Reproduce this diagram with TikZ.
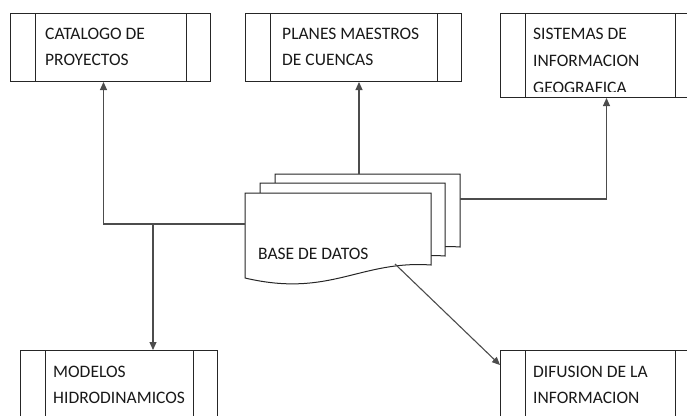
\documentclass[tikz,border=0pt]{standalone}
\usepackage{fontspec}
\setmainfont{Carlito}
\usetikzlibrary{arrows.meta}
\tikzstyle{borde}=[draw=black!85,line width=1pt]
\tikzstyle{caja}=[borde,rectangle,anchor=north west,inner sep=0pt]
\tikzstyle{txt}=[anchor=north west,inner sep=0pt,align=left,text=black!90,font=\fontsize{17.5}{25.5}\selectfont]
\tikzstyle{con}=[draw=black!70,line width=1.1pt]
\tikzstyle{flecha}=[con,-{Triangle[length=8pt,width=7pt]}]
\tikzstyle{hoja}=[borde,fill=white]
\newcommand{\barras}[1]{\draw[borde] ([xshift=25pt]#1.north west) -- ([xshift=25pt]#1.south west) ([xshift=-25pt]#1.north east) -- ([xshift=-25pt]#1.south east);}

\begin{document}
\begin{tikzpicture}[x=1pt,y=-1pt]
\useasboundingbox (0,0) rectangle (687,415);
\clip (0,0) rectangle (687,415);
% cajas
\node[caja,minimum width=200pt,minimum height=68pt] (b1) at (10,13) {}; \barras{b1}
\node[caja,minimum width=216pt,minimum height=68pt] (b2) at (245,13) {}; \barras{b2}
\node[caja,minimum width=199pt,minimum height=84pt] (b3) at (500,13) {}; \barras{b3}
\node[caja,minimum width=197pt,minimum height=80pt] (b4) at (20,350) {}; \barras{b4}
\node[caja,minimum width=199pt,minimum height=80pt] (b5) at (500,350) {}; \barras{b5}
\node[txt] (t1) at (45,28) {CATALOGO DE\\PROYECTOS};
\node[txt] (t2) at (282,28) {PLANES MAESTROS\\DE CUENCAS};
\begin{scope}
\clip (b3.north west) rectangle ([yshift=7pt]b3.south east);
\node[txt,font=\fontsize{17.5}{27}\selectfont] (t3) at (533,28) {SISTEMAS DE\\INFORMACION\\GEOGRAFICA};
\end{scope}
\node[txt] (t4) at (53,366) {MODELOS\\HIDRODINAMICOS};
\node[txt] (t5) at (533,366) {DIFUSION DE LA\\INFORMACION};
% base de datos
\draw[hoja] (275,174) -- (460,174) -- (460,247) .. controls (389,242) and (359,280) .. (275,260) -- cycle;
\draw[hoja] (260,183) -- (445,183) -- (445,256) .. controls (374,251) and (344,289) .. (260,269) -- cycle;
\draw[hoja] (245,193) -- (431,193) -- (431,265) .. controls (360,260) and (330,298) .. (245,278) -- cycle;
\node[txt] (bd) at (258,248) {BASE DE DATOS};
\coordinate (dl) at (245,224);
\coordinate (j1) at (153,224);
\coordinate (dt) at (359,174);
\coordinate (dr) at (460,199);
\coordinate (dw) at (395,264);
% conectores
\draw[flecha] (dl) -| ([xshift=-7pt]b1.south);
\draw[flecha] (j1) -- (j1 |- b4.north);
\draw[flecha] (dt) -- (dt |- b2.south);
\draw[flecha] (dr) -| ([xshift=6.5pt]b3.south);
\draw[flecha] (dw) -- ([yshift=-15pt]b5.north west);
\end{tikzpicture}
\end{document}
